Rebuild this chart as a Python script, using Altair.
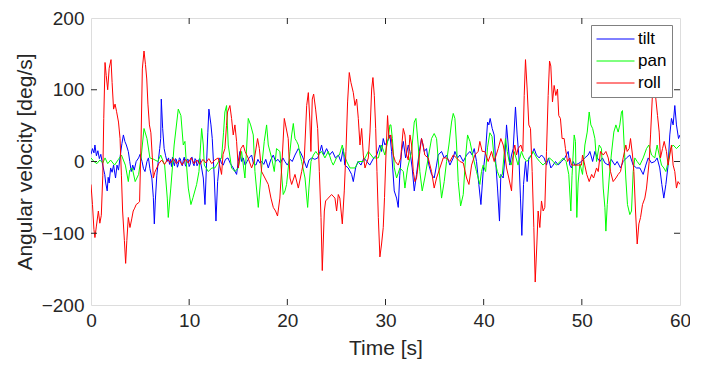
import altair as alt
import pandas as pd

# ---------------- data ----------------
tilt_t = [0.0,0.15,0.3,0.4,0.55,0.7,0.85,1.0,1.15,1.3,1.4,1.5,1.65,1.75,1.85,2.0,2.15,2.3,2.5,2.65,2.8,3.0,3.15,3.3,3.45,3.6,3.8,3.95,4.1,4.25,4.4,4.6,4.85,5.0,5.2,5.35,5.5,5.7,5.85,6.0,6.2,6.35,6.45,6.55,6.7,6.85,7.0,7.1,7.16,7.3,7.45,7.6,7.75,7.9,8.0,8.1,8.2,8.3,8.4,8.5,8.6,8.7,8.8,8.9,9.0,9.1,9.2,9.3,9.4,9.5,9.6,9.7,9.8,9.9,10.0,10.1,10.2,10.3,10.4,10.5,10.6,10.7,10.8,10.9,11.0,11.1,11.27,11.44,11.61,11.78,11.9,12.01,12.22,12.35,12.56,12.73,12.9,13.13,13.3,13.47,13.7,13.95,14.2,14.49,14.83,15.0,15.17,15.35,15.51,15.7,15.9,16.1,16.36,16.55,16.8,17.0,17.2,17.4,17.6,17.8,18.06,18.3,18.57,18.8,19.05,19.3,19.55,19.75,20.0,20.3,20.5,20.78,21.12,21.3,21.6,21.97,22.2,22.5,22.8,23.1,23.32,23.49,23.7,24.0,24.3,24.6,24.9,25.2,25.45,25.7,25.85,26.2,26.55,26.72,26.95,27.2,27.5,27.8,28.1,28.4,28.8,29.1,29.43,29.6,29.77,29.94,30.21,30.45,30.62,30.89,31.13,31.3,31.45,31.64,31.81,32.05,32.32,32.49,32.72,32.93,33.16,33.44,33.67,33.95,34.18,34.42,34.69,34.96,35.2,35.37,35.71,35.98,36.22,36.56,36.9,37.07,37.34,37.58,37.92,38.26,38.6,38.83,39.04,39.27,39.51,39.72,39.95,40.19,40.4,40.53,40.66,40.87,41.07,41.2,41.41,41.61,41.75,41.99,42.16,42.33,42.5,42.67,42.84,43.01,43.24,43.41,43.58,43.75,43.89,44.06,44.26,44.43,44.6,44.87,45.14,45.38,45.65,45.89,46.16,46.4,46.6,46.84,47.08,47.32,47.59,47.93,48.27,48.61,48.78,48.95,49.12,49.29,49.63,49.96,50.3,50.64,50.82,51.1,51.33,51.57,51.84,52.1,52.35,52.7,53.0,53.36,53.6,53.94,54.21,54.55,54.89,55.23,55.57,55.91,56.25,56.52,56.76,57.1,57.43,57.67,57.94,58.15,58.35,58.56,58.79,58.96,59.13,59.3,59.47,59.64,59.85,60.0]
tilt_v = [10,18,12,23,8,15,4,10,-2,-12,-18,-30,-41,-22,-30,-9,-15,-5,-23,-5,-12,10,25,37,28,23,14,0,-14,-5,-12,0,5,10,0,-10,-14,0,5,-10,-23,-50,-87,-55,-20,0,18,32,87,46,18,8,0,5,-4,3,-7,6,-2,-6,4,3,-8,-4,5,4,-3,-6,2,6,-5,-7,3,3,-7,-4,5,6,-3,-6,4,2,-6,-3,3,4,-9,-23,-60,0,40,73,51,32,-23,-83,-28,5,-3,-5,3,5,-3,-9,-18,0,14,0,5,-5,0,5,9,-3,-5,3,-2,0,-4,3,-9,2,9,0,3,-2,5,0,-5,3,0,9,18,14,5,-9,2,5,3,5,14,23,9,18,9,14,5,9,0,18,-5,-9,-18,-28,-9,0,-5,5,0,-5,5,9,23,14,32,23,28,37,14,-41,-51,-64,-20,14,28,5,23,14,-9,-41,-18,14,32,14,18,-5,-18,-23,-5,9,14,5,9,-5,5,14,5,9,0,9,14,9,18,0,-32,-60,-14,14,55,51,60,46,37,5,-37,-83,-18,-23,5,51,23,-5,9,18,76,37,9,-51,-103,-32,0,-28,5,9,18,9,5,9,5,-5,5,-9,-5,0,-5,0,5,14,-5,-9,0,-5,-3,0,5,9,14,0,14,5,0,5,-2,-5,3,-5,0,-9,0,5,9,-5,-9,-9,-18,-5,5,-2,0,5,-9,-32,-51,-32,-5,37,60,51,78,51,32,37]

pan_t = [0.0,0.3,0.6,0.9,1.2,1.43,1.7,2.0,2.4,2.8,3.1,3.5,3.8,3.95,4.2,4.5,4.85,5.1,5.4,5.7,6.0,6.4,6.8,7.1,7.5,7.77,7.87,8.13,8.47,8.89,9.16,9.4,9.57,9.7,9.91,10.18,10.4,10.76,11.0,11.27,11.44,11.54,11.95,12.3,12.62,13.0,13.3,13.5,13.64,13.81,13.98,14.32,14.66,15.0,15.34,15.68,16.02,16.26,16.53,16.7,17.04,17.38,17.65,17.89,18.06,18.4,18.67,18.9,19.24,19.58,19.76,19.92,20.27,20.44,20.61,20.78,20.95,21.12,21.3,21.46,21.8,22.07,22.2,22.41,22.65,22.9,23.15,23.49,23.83,24.17,24.5,24.68,25.0,25.3,25.6,25.8,26.05,26.38,26.9,27.23,27.74,28.25,28.76,29.27,29.6,29.94,30.28,30.45,30.55,30.7,30.9,31.13,31.47,31.81,31.98,32.25,32.66,32.93,33.1,33.33,33.5,33.74,34.0,34.35,34.69,34.96,35.2,35.44,35.71,35.98,36.22,36.46,36.73,36.9,37.07,37.24,37.41,37.65,37.92,38.15,38.36,38.6,38.94,39.27,39.61,39.78,39.95,40.2,40.4,40.63,40.85,41.07,41.4,41.65,41.9,42.22,42.4,42.6,42.8,43.1,43.3,43.5,43.85,44.1,44.4,44.7,45.04,45.4,45.7,46.05,46.4,46.7,47.1,47.4,47.8,48.1,48.4,48.67,48.88,49.0,49.22,49.35,49.49,49.62,49.8,50.07,50.31,50.55,50.75,50.92,51.1,51.33,51.5,51.77,52.0,52.18,52.35,52.45,52.59,52.79,53.0,53.26,53.47,53.7,53.87,54.04,54.14,54.31,54.48,54.65,54.89,55.06,55.23,55.4,55.64,55.91,56.25,56.59,56.83,57.1,57.43,57.67,57.88,58.12,58.35,58.56,58.8,59.03,59.3,59.64,60.0]
pan_v = [5,0,-3,2,-2,5,-3,2,-5,3,9,-5,-28,-12,-9,-28,-18,5,46,32,5,3,0,9,-5,-51,-78,-37,23,73,64,23,28,0,-37,-60,-50,-32,-14,46,23,-5,-14,-9,-9,0,5,40,69,78,23,-9,-14,-9,14,-23,60,51,37,-14,-64,-9,28,51,23,5,-14,18,14,-46,-41,-32,14,37,53,32,28,23,9,0,-23,-64,-37,0,9,14,9,14,5,14,0,-5,5,9,23,9,0,-9,-9,0,0,14,5,5,23,9,32,51,51,32,-9,-23,-9,-14,-37,-9,14,55,60,23,-14,-41,-23,5,32,39,32,-9,-51,-28,0,23,55,67,60,23,-28,-62,-46,5,37,28,5,-14,-32,-14,-5,-14,20,40,35,5,-14,-23,-18,32,14,0,-5,14,5,-5,14,5,0,5,14,5,0,-5,0,5,0,-5,0,5,0,-18,-69,-20,37,28,-78,-30,-3,-18,23,41,69,51,46,32,0,23,18,-37,-64,-97,-60,-23,9,41,51,41,51,69,71,23,-23,-60,-74,-69,-14,5,0,-5,5,18,23,9,5,23,9,-5,-9,-14,0,18,23,18,23]

roll_t = [0.0,0.15,0.3,0.4,0.55,0.75,0.9,1.05,1.2,1.3,1.43,1.55,1.7,1.85,2.04,2.15,2.3,2.45,2.6,2.8,2.96,3.1,3.22,3.4,3.53,3.65,3.8,3.97,4.15,4.3,4.45,4.6,4.8,4.95,5.1,5.23,5.4,5.55,5.68,5.8,5.95,6.1,6.25,6.35,6.5,6.7,6.9,7.2,7.5,7.8,8.1,8.4,8.7,9.0,9.3,9.6,9.9,10.2,10.5,10.8,11.1,11.4,11.7,12.0,12.3,12.6,12.96,13.3,13.45,13.64,13.8,13.91,14.15,14.32,14.49,14.66,14.83,15.0,15.27,15.51,15.7,16.0,16.36,16.6,16.97,17.15,17.38,17.72,18.06,18.33,18.57,18.8,19.0,19.24,19.48,19.69,19.82,20.09,20.27,20.44,20.78,21.12,21.46,21.73,21.97,22.14,22.3,22.4,22.54,22.68,22.88,23.09,23.26,23.43,23.56,23.77,23.9,24.17,24.51,24.85,25.02,25.19,25.35,25.6,25.8,25.97,26.14,26.31,26.48,26.72,26.89,27.06,27.23,27.4,27.57,27.74,27.91,28.25,28.42,28.59,28.72,28.86,29.0,29.13,29.27,29.43,29.6,29.77,29.9,30.05,30.21,30.35,30.55,30.79,31.0,31.3,31.55,31.81,31.98,32.15,32.32,32.49,32.66,32.83,33.0,33.16,33.33,33.67,33.84,34.0,34.35,34.69,34.96,35.2,35.54,35.88,36.2,36.56,36.9,37.24,37.58,37.92,38.26,38.5,38.77,39.1,39.44,39.61,39.85,40.12,40.46,40.8,41.07,41.48,41.75,41.99,42.16,42.33,42.56,42.84,43.04,43.17,43.34,43.51,43.79,43.99,44.13,44.26,44.43,44.6,44.77,44.94,45.11,45.25,45.42,45.55,45.72,45.89,46.06,46.23,46.4,46.57,46.71,46.84,47.01,47.18,47.35,47.52,47.65,47.82,47.99,48.2,48.33,48.54,48.78,48.95,49.3,49.64,49.96,50.07,50.3,50.5,50.75,51.0,51.2,51.5,51.67,51.9,52.18,52.45,52.69,52.92,53.19,53.47,53.7,53.94,54.21,54.48,54.62,54.82,54.96,55.16,55.3,55.47,55.64,55.81,55.98,56.18,56.42,56.59,56.86,57.0,57.17,57.34,57.54,57.71,57.88,58.01,58.22,58.39,58.62,58.79,58.96,59.13,59.3,59.47,59.64,59.8,60.0]
roll_v = [-32,-60,-95,-106,-90,-69,-86,-75,-20,60,138,120,100,130,142,110,73,80,70,55,32,-20,-69,-110,-142,-110,-78,-92,-80,-69,-65,-60,-58,-56,30,129,154,135,115,80,51,40,5,-23,-15,-9,-3,2,-4,3,-2,4,-3,2,-5,3,-2,5,-3,2,-4,3,-2,4,-3,2,5,-18,10,18,50,69,78,60,37,51,28,-9,18,23,14,5,-9,0,32,18,-14,-23,-32,-51,-64,-69,-76,-51,5,60,51,32,-23,-32,-18,-37,-14,5,78,96,55,14,87,94,73,46,-14,-78,-152,-69,-55,-51,-46,-51,-69,-46,-51,-87,-41,14,83,124,110,96,78,87,60,23,46,9,-9,5,41,101,117,92,46,-14,-78,-133,-115,-92,-50,10,64,32,37,9,0,-5,5,46,37,9,2,37,23,-14,-28,-23,-5,32,23,9,5,-14,-37,-23,-9,5,5,0,9,5,0,-2,-23,-32,-5,9,14,28,14,14,0,14,0,18,32,23,9,-9,-23,-41,14,23,9,18,23,14,92,142,101,51,46,-14,-92,-168,-115,-69,-92,-55,-69,-64,14,92,140,133,83,106,92,101,64,60,32,32,18,0,5,-5,-5,-5,-5,9,-5,-18,-28,-18,-23,-9,-14,14,9,14,5,-14,-28,-23,-18,-14,5,23,14,18,32,9,-14,-69,-115,-87,-78,-60,-51,-37,0,37,87,120,87,64,41,5,18,28,14,-5,9,23,-5,-14,-37,-28,-32]

series_names = ["tilt", "pan", "roll"]
series_colors = ["#0000FF", "#00FF00", "#FF0000"]
x_ticks = [0, 10, 20, 30, 40, 50, 60]
y_ticks = [-200, -100, 0, 100, 200]

W, H = 589, 287
TICK = 6
TXT = "#262626"
FONT = "Liberation Sans"

def frame(name, t, v):
    return pd.DataFrame({"t": t, "v": v, "series": name})

dfs = [frame("tilt", tilt_t, tilt_v), frame("pan", pan_t, pan_v), frame("roll", roll_t, roll_v)]

xscale = alt.Scale(domain=[0, 60], nice=False, zero=False)
yscale = alt.Scale(domain=[-200, 200], nice=False, zero=False)
cscale = alt.Scale(domain=series_names, range=series_colors)

x_main = alt.X("t:Q", scale=xscale, title="Time [s]",
               axis=alt.Axis(values=x_ticks, ticks=False, domain=False, grid=False,
                             labelFlush=False, labelOverlap=False,
                             labelFontSize=19, titleFontSize=21, labelPadding=6,
                             titlePadding=7, labelColor=TXT, titleColor=TXT,
                             labelFont=FONT, titleFont=FONT, titleFontWeight="normal"))
y_main = alt.Y("v:Q", scale=yscale, title="Angular velocity [deg/s]",
               axis=alt.Axis(values=y_ticks, ticks=False, domain=False, grid=False,
                             labelFlush=False, labelOverlap=False,
                             labelFontSize=19, titleFontSize=21, labelPadding=7,
                             titlePadding=6, labelColor=TXT, titleColor=TXT,
                             labelFont=FONT, titleFont=FONT, titleFontWeight="normal"))

legend = alt.Legend(title=None, orient="none", legendX=500, legendY=7,
                    symbolType="stroke", symbolSize=1444, symbolStrokeWidth=1,
                    labelFontSize=17, labelFont=FONT, labelColor="#000000",
                    fillColor="white", strokeColor="#808080", padding=5,
                    rowPadding=4, clipHeight=18, labelOffset=3)

layers = []
for d in dfs:
    layers.append(
        alt.Chart(d).mark_line(strokeWidth=1, clip=True).encode(
            x=x_main, y=y_main,
            color=alt.Color("series:N", scale=cscale, legend=legend),
        )
    )

# inward tick marks on all four sides (positions from the tick value lists)
xt = pd.DataFrame({"t": x_ticks[1:-1]})
yt = pd.DataFrame({"v": y_ticks[1:-1]})
tick_style = dict(color=TXT, strokeWidth=1)
ticks = [
    alt.Chart(xt).mark_rule(**tick_style).encode(
        x=alt.X("t:Q", scale=xscale), y=alt.value(H), y2=alt.value(H - TICK)),
    alt.Chart(xt).mark_rule(**tick_style).encode(
        x=alt.X("t:Q", scale=xscale), y=alt.value(0), y2=alt.value(TICK)),
    alt.Chart(yt).mark_rule(**tick_style).encode(
        y=alt.Y("v:Q", scale=yscale), x=alt.value(0), x2=alt.value(TICK)),
    alt.Chart(yt).mark_rule(**tick_style).encode(
        y=alt.Y("v:Q", scale=yscale), x=alt.value(W), x2=alt.value(W - TICK)),
]

chart = alt.layer(*layers, *ticks).properties(
    width=W, height=H,
    autosize=alt.AutoSizeParams(type="none"),
    padding={"left": 83, "top": 10, "right": 10, "bottom": 55},
).configure_view(stroke="#4d4d4d", strokeWidth=1).configure(background="white")

chart.save("out.html", embed_options={"renderer": "svg", "actions": False})
